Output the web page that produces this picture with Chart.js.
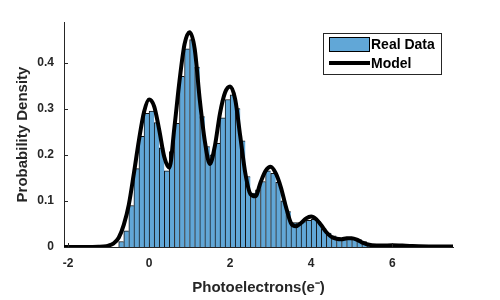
<!DOCTYPE html>
<html>
<head>
<meta charset="utf-8">
<script src="https://cdn.jsdelivr.net/npm/chart.js@4"></script>
<style>
  html, body { margin: 0; padding: 0; background: #fff; }
</style>
</head>
<body>
<canvas id="myChart" width="500" height="300"></canvas>
<script>
// histogram bins (centres) and their probability densities
const binCenters = [
    -0.6875, -0.5625, -0.4375, -0.3125, -0.1875, -0.0625,
    0.0625, 0.1875, 0.3125, 0.4375, 0.5625, 0.6875, 0.8125, 0.9375,
    1.0625, 1.1875, 1.3125, 1.4375, 1.5625, 1.6875, 1.8125, 1.9375,
    2.0625, 2.1875, 2.3125, 2.4375, 2.5625, 2.6875, 2.8125, 2.9375,
    3.0625, 3.1875, 3.3125, 3.4375, 3.5625, 3.6875, 3.8125, 3.9375,
    4.0625, 4.1875, 4.3125, 4.4375, 4.5625, 4.6875, 4.8125, 4.9375,
    5.0625, 5.1875, 5.3125, 5.4375
];
const realData = [
    0.012, 0.035, 0.09, 0.17, 0.24, 0.29,
    0.295, 0.27, 0.215, 0.165, 0.207, 0.268, 0.37, 0.43,
    0.45, 0.39, 0.283, 0.218, 0.20, 0.225, 0.28, 0.32,
    0.33, 0.30, 0.23, 0.153, 0.117, 0.124, 0.142, 0.165,
    0.16, 0.14, 0.10, 0.077, 0.053, 0.053, 0.055, 0.058,
    0.06, 0.055, 0.04, 0.03, 0.024, 0.019, 0.016, 0.017,
    0.017, 0.016, 0.012, 0.006
];

// model curve
const modelX = [
    -2.1, -1.5, -1.25, -1.125,
    -1.0, -0.875, -0.75, -0.625, -0.5, -0.375, -0.25, -0.125,
    0, 0.125, 0.25, 0.375, 0.5, 0.625, 0.75, 0.875,
    1.0, 1.125, 1.25, 1.375, 1.5, 1.625, 1.75, 1.875,
    2.0, 2.125, 2.25, 2.375, 2.5, 2.625, 2.75, 2.875,
    3.0, 3.125, 3.25, 3.375, 3.5, 3.625, 3.75, 3.875,
    4.0, 4.125, 4.25, 4.375, 4.5, 4.625, 4.75, 4.875,
    5.0, 5.125, 5.25, 5.375, 5.5,
    5.75, 6.0, 6.25, 6.5, 7.0, 7.5
];
const modelY = [
    0, 0, 0.0005, 0.001,
    0.003, 0.008, 0.02, 0.048, 0.092, 0.16, 0.232, 0.293,
    0.32, 0.305, 0.254, 0.195, 0.172, 0.26, 0.36, 0.44,
    0.466, 0.43, 0.32, 0.23, 0.18, 0.22, 0.29, 0.335,
    0.348, 0.32, 0.24, 0.16, 0.115, 0.11, 0.14, 0.165,
    0.174, 0.16, 0.13, 0.088, 0.052, 0.045, 0.052, 0.062,
    0.066, 0.06, 0.047, 0.032, 0.022, 0.018, 0.017, 0.019,
    0.019, 0.016, 0.01, 0.006, 0.004,
    0.003, 0.004, 0.003, 0.002, 0.001, 0.001
];

const xTicks = [-2, 0, 2, 4, 6];
const yTicks = [0, 0.1, 0.2, 0.3, 0.4];

const barColor = 'rgb(97,167,215)';
const axisColor = '#262626';

// small inward tick marks (matlab style)
const innerTicks = {
    id: 'innerTicks',
    afterDatasetsDraw(chart) {
        const {ctx, chartArea, scales} = chart;
        ctx.save();
        ctx.strokeStyle = axisColor;
        ctx.lineWidth = 1;
        ctx.beginPath();
        xTicks.forEach(v => {
            const px = Math.round(scales.x.getPixelForValue(v)) + 0.5;
            ctx.moveTo(px, chartArea.bottom);
            ctx.lineTo(px, chartArea.bottom - 4);
        });
        yTicks.forEach(v => {
            const py = Math.round(scales.y.getPixelForValue(v)) + 0.5;
            ctx.moveTo(chartArea.left, py);
            ctx.lineTo(chartArea.left + 4, py);
        });
        ctx.stroke();
        ctx.restore();
    }
};

// legend box drawn inside the axes, like the MATLAB one
const boxLegend = {
    id: 'boxLegend',
    afterDraw(chart) {
        const ctx = chart.ctx;
        ctx.save();
        ctx.fillStyle = '#fff';
        ctx.fillRect(323.5, 33.5, 118, 41);
        ctx.strokeStyle = axisColor;
        ctx.lineWidth = 1;
        ctx.strokeRect(323.5, 33.5, 118, 41);

        ctx.fillStyle = barColor;
        ctx.fillRect(329.5, 37.5, 40, 14);
        ctx.strokeStyle = '#000';
        ctx.strokeRect(329.5, 37.5, 40, 14);

        ctx.beginPath();
        ctx.moveTo(329, 63);
        ctx.lineTo(370, 63);
        ctx.lineWidth = 4;
        ctx.stroke();

        ctx.fillStyle = '#000';
        ctx.font = 'bold 14px "Liberation Sans", Arial, sans-serif';
        ctx.textBaseline = 'middle';
        ctx.fillText('Real Data', 371, 45);
        ctx.fillText('Model', 371, 64);
        ctx.restore();
    }
};

const data = {
    datasets: [{
        type: 'line',
        label: 'Model',
        data: modelX.map((x, i) => ({x: x, y: modelY[i]})),
        borderColor: '#000',
        borderWidth: 4,
        pointRadius: 0,
        cubicInterpolationMode: 'monotone',
        fill: false,
        order: 0
    }, {
        type: 'bar',
        label: 'Real Data',
        data: binCenters.map((x, i) => ({x: x, y: realData[i]})),
        backgroundColor: barColor,
        borderColor: '#111',
        borderWidth: {left: 1, top: 1, right: 0, bottom: 0},
        borderSkipped: false,
        barPercentage: 1,
        categoryPercentage: 1,
        order: 1
    }]
};

const config = {
    type: 'bar',
    data: data,
    plugins: [innerTicks, boxLegend],
    options: {
        responsive: false,
        animation: false,
        layout: {padding: {top: 22, right: 47, left: 0, bottom: 0}},
        plugins: {legend: {display: false}, tooltip: {enabled: false}},
        scales: {
            x: {
                type: 'linear',
                min: -2.1,
                max: 7.5,
                offset: false,
                afterBuildTicks: (s) => { s.ticks = xTicks.map(v => ({value: v})); },
                afterFit: (s) => { s.height = 53; },
                grid: {display: false, drawTicks: false},
                border: {display: true, color: axisColor, width: 1},
                ticks: {
                    color: axisColor,
                    padding: 9,
                    font: {family: '"Liberation Sans", Arial, sans-serif', size: 12, weight: 'bold'},
                    callback: (v) => String(v),
                    maxRotation: 0
                },
                title: {
                    display: true,
                    text: 'Photoelectrons(e\u207B)',
                    color: axisColor,
                    padding: {top: 0, bottom: 3},
                    font: {family: '"Liberation Sans", Arial, sans-serif', size: 15, weight: 'bold'}
                }
            },
            y: {
                min: 0,
                max: 0.488,
                afterBuildTicks: (s) => { s.ticks = yTicks.map(v => ({value: v})); },
                afterFit: (s) => { s.width = 64; },
                grid: {display: false, drawTicks: false},
                border: {display: true, color: axisColor, width: 1},
                ticks: {
                    color: axisColor,
                    padding: 10,
                    font: {family: '"Liberation Sans", Arial, sans-serif', size: 12, weight: 'bold'},
                    callback: (v) => String(v)
                },
                title: {
                    display: true,
                    text: 'Probability Density',
                    color: axisColor,
                    padding: {top: 14, bottom: 0},
                    font: {family: '"Liberation Sans", Arial, sans-serif', size: 15, weight: 'bold'}
                }
            }
        }
    }
};

new Chart(document.getElementById('myChart'), config);
</script>
</body>
</html>
